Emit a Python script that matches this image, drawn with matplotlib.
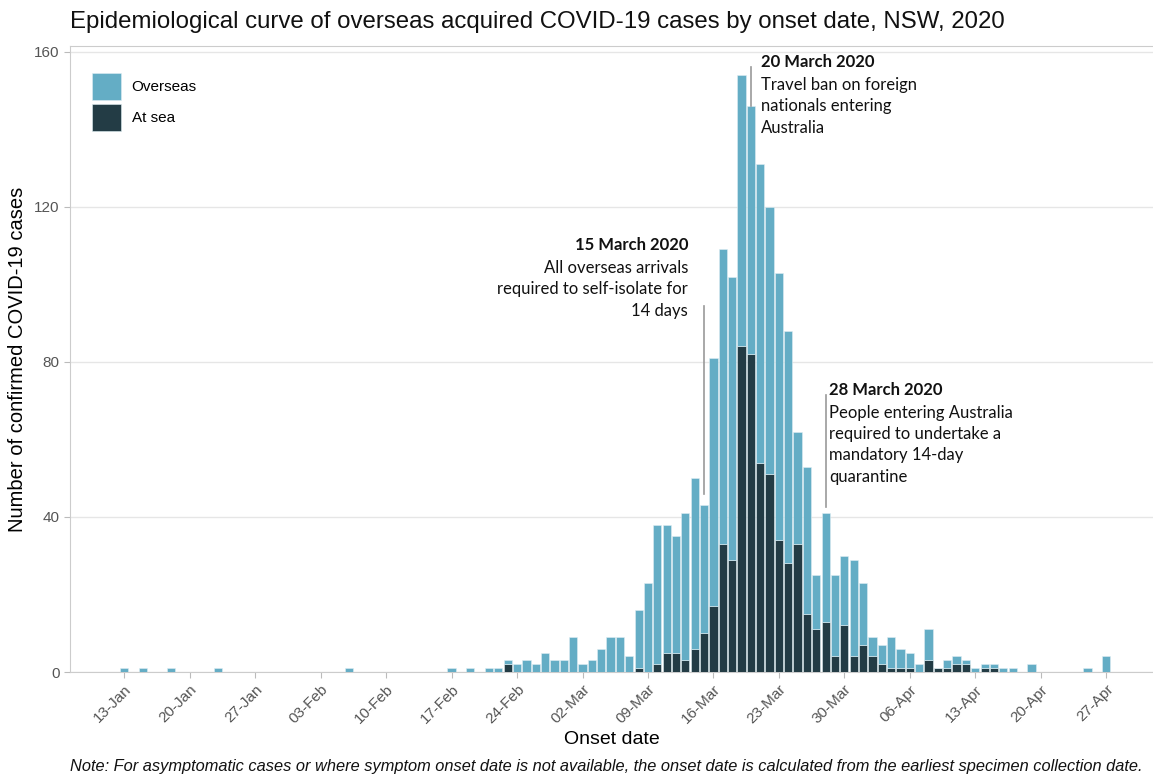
import matplotlib
matplotlib.use("Agg")
import matplotlib.pyplot as plt
import matplotlib.dates as mdates
import numpy as np

# onset dates with at least one case, total cases and cases acquired at sea
onset_dates = [
    "2020-01-13", "2020-01-15", "2020-01-18", "2020-01-23", "2020-02-06",
    "2020-02-17", "2020-02-19", "2020-02-21", "2020-02-22", "2020-02-23",
    "2020-02-24", "2020-02-25", "2020-02-26", "2020-02-27", "2020-02-28",
    "2020-02-29", "2020-03-01", "2020-03-02", "2020-03-03", "2020-03-04",
    "2020-03-05", "2020-03-06", "2020-03-07", "2020-03-08", "2020-03-09",
    "2020-03-10", "2020-03-11", "2020-03-12", "2020-03-13", "2020-03-14",
    "2020-03-15", "2020-03-16", "2020-03-17", "2020-03-18", "2020-03-19",
    "2020-03-20", "2020-03-21", "2020-03-22", "2020-03-23", "2020-03-24",
    "2020-03-25", "2020-03-26", "2020-03-27", "2020-03-28", "2020-03-29",
    "2020-03-30", "2020-03-31", "2020-04-01", "2020-04-02", "2020-04-03",
    "2020-04-04", "2020-04-05", "2020-04-06", "2020-04-07", "2020-04-08",
    "2020-04-09", "2020-04-10", "2020-04-11", "2020-04-12", "2020-04-13",
    "2020-04-14", "2020-04-15", "2020-04-16", "2020-04-17", "2020-04-19",
    "2020-04-25", "2020-04-27",
]
total_cases = [
    1, 1, 1, 1, 1,
    1, 1, 1, 1, 3,
    2, 3, 2, 5, 3,
    3, 9, 2, 3, 6,
    9, 9, 4, 16, 23,
    38, 38, 35, 41, 50,
    43, 81, 109, 102, 154,
    146, 131, 120, 103, 88,
    62, 53, 25, 41, 25,
    30, 29, 23, 9, 7,
    9, 6, 5, 2, 11,
    1, 3, 4, 3, 1,
    2, 2, 1, 1, 2,
    1, 4,
]
at_sea = [
    0, 0, 0, 0, 0,
    0, 0, 0, 0, 2,
    0, 0, 0, 0, 0,
    0, 0, 0, 0, 0,
    0, 0, 0, 1, 0,
    2, 5, 5, 3, 6,
    10, 17, 33, 29, 84,
    82, 54, 51, 34, 28,
    33, 15, 11, 13, 4,
    12, 4, 7, 4, 2,
    1, 1, 1, 0, 3,
    1, 1, 2, 2, 0,
    1, 1, 0, 0, 0,
    0, 0,
]
overseas = [t - s for t, s in zip(total_cases, at_sea)]

tick_dates = ["2020-01-13", "2020-01-20", "2020-01-27", "2020-02-03", "2020-02-10",
              "2020-02-17", "2020-02-24", "2020-03-02", "2020-03-09", "2020-03-16",
              "2020-03-23", "2020-03-30", "2020-04-06", "2020-04-13", "2020-04-20",
              "2020-04-27"]
tick_labels = ["13-Jan", "20-Jan", "27-Jan", "03-Feb", "10-Feb", "17-Feb", "24-Feb",
               "02-Mar", "09-Mar", "16-Mar", "23-Mar", "30-Mar", "06-Apr", "13-Apr",
               "20-Apr", "27-Apr"]

light = "#64adc5"
dark = "#233c45"
grey = "#555555"

x = mdates.date2num(np.array(onset_dates, dtype="datetime64[D]"))
xt = mdates.date2num(np.array(tick_dates, dtype="datetime64[D]"))

def d(s):
    return mdates.date2num(np.datetime64(s))

plt.rcParams['font.family'] = ['Liberation Sans', 'DejaVu Sans']

fig = plt.figure(figsize=(11.53, 7.76), dpi=100)
ax = fig.add_axes([70/1153, 104/776, 1083/1153, 626/776])

ax.bar(x, at_sea, width=0.88, color=dark, edgecolor="#dfeef3", linewidth=0.4, label="At sea", zorder=3)
ax.bar(x, overseas, bottom=at_sea, width=0.88, color=light, edgecolor="#dfeef3", linewidth=0.4,
       label="Overseas", zorder=3)

ax.set_xlim(d("2020-01-13") - 5.8, d("2020-01-13") + 110)
ax.set_ylim(0, 161.5)
ax.set_yticks([0, 40, 80, 120, 160])
ax.set_xticks(xt)
ax.set_xticklabels(tick_labels, rotation=45, ha="right", rotation_mode="anchor")
ax.tick_params(axis="both", colors="#bbbbbb", labelcolor=grey, labelsize=11, length=4)
ax.grid(axis="y", color="#e6e6e6", linewidth=1, zorder=0)
for sp in ax.spines.values():
    sp.set_color("#cccccc")
ax.spines["right"].set_visible(False)

ax.set_xlabel("Onset date", fontsize=14, labelpad=3)
ax.set_ylabel("Number of confirmed COVID-19 cases", fontsize=14.5, labelpad=5)
fig.text(70/1153, 1 - 22/776, "Epidemiological curve of overseas acquired COVID-19 cases by onset date, NSW, 2020",
         fontsize=17.3, ha="left", va="center", color="#111111")
fig.text(606/1153, 1 - 766/776,
         "Note: For asymptomatic cases or where symptom onset date is not available, the onset date is calculated from the earliest specimen collection date.",
         fontsize=11.8, style="italic", ha="center", va="center", color="#111111")

h, l = ax.get_legend_handles_labels()
ax.legend(h[::-1], l[::-1], loc="upper left", bbox_to_anchor=(22/1083, 1 - 27/626), frameon=False,
          fontsize=11, handlelength=1.9, handleheight=2.3, labelspacing=0.3, handletextpad=0.7,
          borderaxespad=0, borderpad=0)

# annotations
afont = dict(family=["Lato", "DejaVu Sans"], fontsize=12, color="#111111", linespacing=1.42)
lc = "#999999"
ax.plot([d("2020-03-20")] * 2, [146, 156], color=lc, lw=1.2, zorder=4)
ax.text(d("2020-03-20") + 1.05, 159.5, "20 March 2020", weight="bold", va="top", ha="left", **afont)
ax.text(d("2020-03-20") + 1.05, 153.5, "Travel ban on foreign\nnationals entering\nAustralia",
        va="top", ha="left", **afont)

ax.plot([d("2020-03-15")] * 2, [46, 94.4], color=lc, lw=1.2, zorder=4)
ax.text(d("2020-03-13") + 0.3, 112.3, "15 March 2020", weight="bold", va="top", ha="right", **afont)
ax.text(d("2020-03-13") + 0.3, 106.3, "All overseas arrivals\nrequired to self-isolate for\n14 days",
        va="top", ha="right", **afont)

ax.plot([d("2020-03-28")] * 2, [42.5, 71.5], color=lc, lw=1.2, zorder=4)
ax.text(d("2020-03-28") + 0.35, 74.8, "28 March 2020", weight="bold", va="top", ha="left", **afont)
ax.text(d("2020-03-28") + 0.35, 69.0,
        "People entering Australia\nrequired to undertake a\nmandatory 14-day\nquarantine",
        va="top", ha="left", **afont)

fig.savefig("out.png", dpi=100)
